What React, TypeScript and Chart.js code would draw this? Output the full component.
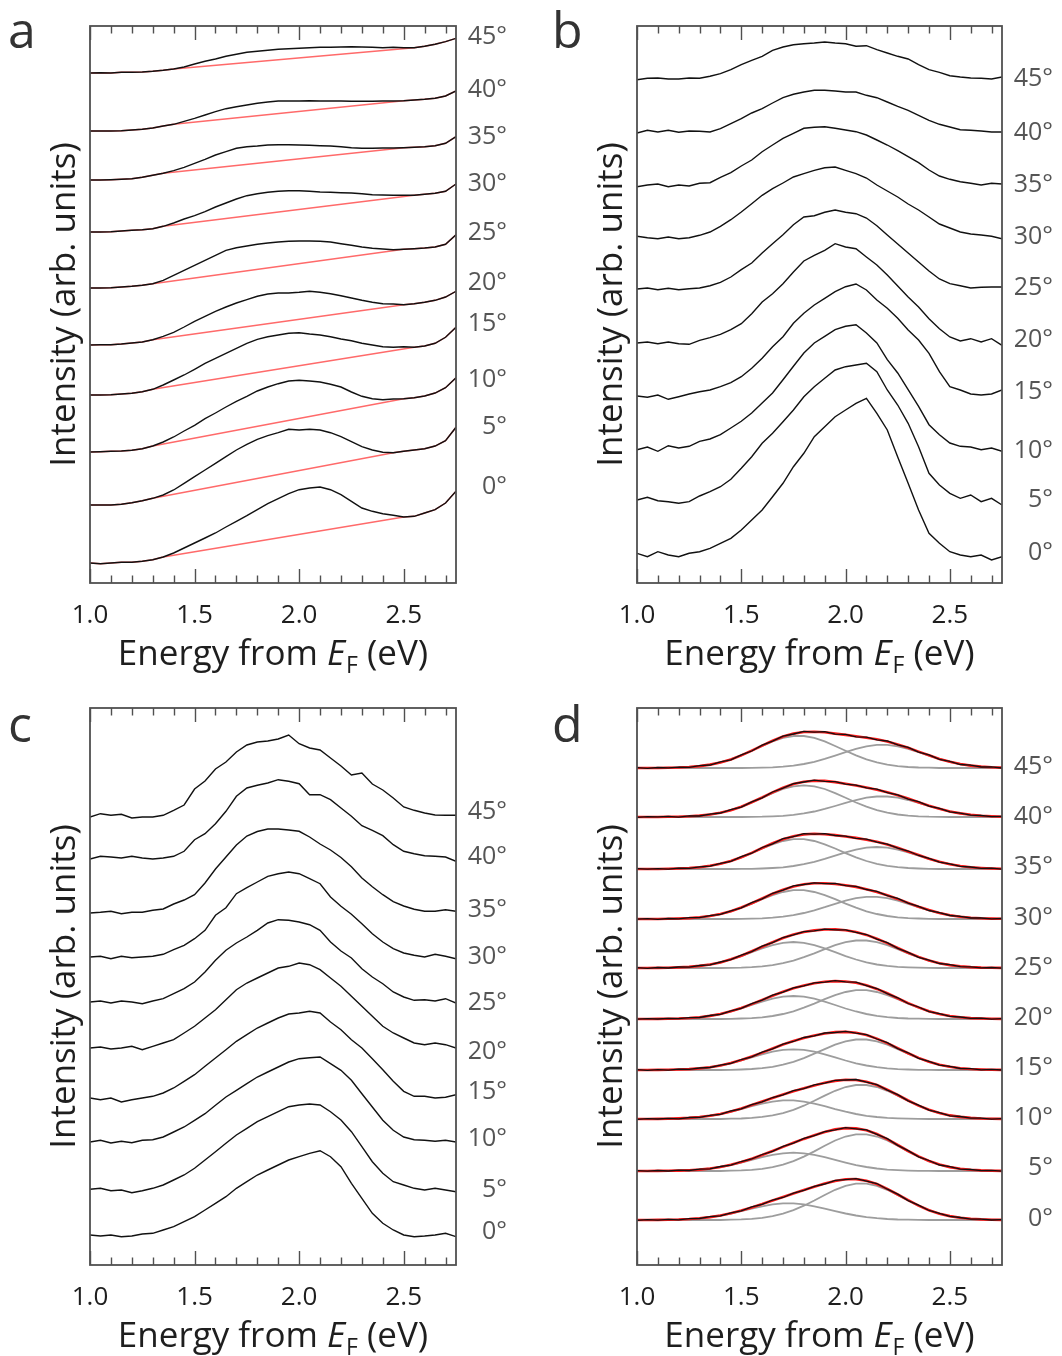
import React, { useEffect, useRef } from "react";
import { Chart, registerables } from "chart.js";
Chart.register(...registerables);

// ---------- shared axis data ----------
const energy = [1.0, 1.05, 1.1, 1.15, 1.2, 1.25, 1.3, 1.35, 1.4, 1.45, 1.5, 1.55, 1.6, 1.65, 1.7, 1.75, 1.8, 1.85, 1.9, 1.95, 2.0, 2.05, 2.1, 2.15, 2.2, 2.25, 2.3, 2.35, 2.4, 2.45, 2.5, 2.55, 2.6, 2.65, 2.7, 2.75];
const angleLabels = ["0°", "5°", "10°", "15°", "20°", "25°", "30°", "35°", "40°", "45°"];
const xTickValues = [1.0, 1.5, 2.0, 2.5];
const xTickLabels = ["1.0", "1.5", "2.0", "2.5"];
const xMinorTicks = [1.1, 1.2, 1.3, 1.4, 1.6, 1.7, 1.8, 1.9, 2.1, 2.2, 2.3, 2.4, 2.6, 2.7];

// ---------- panel a: raw spectra with linear backgrounds ----------
const aOffsets = [20, 78, 131, 188, 238, 295, 351, 403, 452, 510];
const aLabelPos = [96, 156, 203, 259, 300, 350, 399, 446, 493, 546];
const a0 = [0, -0.7, 0, 0.7, 0.7, 1.7, 3.3, 6, 10, 15, 20, 25, 30, 36, 41.7, 47.3, 53.3, 59.3, 64.3, 69.3, 73.3, 75, 76, 73.3, 68.3, 61.7, 55, 51.7, 49.3, 47.7, 46, 46.7, 50, 53.3, 60, 71.7];
const a5 = [0, 0, 0, 0.7, 2.3, 4.3, 6.7, 10, 15, 21.7, 28.3, 35, 41.7, 48.3, 55, 60.7, 65.7, 69.3, 72.3, 75.7, 75, 75.7, 75, 72.3, 68.3, 63.3, 58.3, 55, 52.7, 52.3, 53.7, 55, 56.3, 59, 64.3, 77.7];
const a10 = [0, 0.3, 0.7, 1, 1.7, 3.3, 6, 10, 15, 21, 26.7, 33.3, 39, 45, 50.7, 55.7, 61, 65, 68.3, 71, 71.7, 71, 70, 67.7, 65, 60, 55.7, 53.3, 52.3, 53, 53.3, 54.3, 56, 59, 64.3, 74.3];
const a15 = [0, 0, 0.3, 1, 1.7, 3.3, 5.7, 10, 15, 20, 25.7, 31.7, 36.7, 41.7, 46.7, 51.7, 55.7, 58.3, 60, 61.7, 62.3, 61, 60, 58.3, 56, 54.3, 51.7, 50, 48.3, 47.7, 48.3, 47.7, 49, 51.7, 57.7, 67.7];
const a20 = [0, 0.3, 0.3, 1, 2, 3, 5.3, 8.7, 12.7, 18, 23.7, 28.7, 33.7, 38, 42, 45.3, 48.7, 51, 52, 52, 52.7, 53.7, 52.7, 51.3, 49.3, 47, 44.7, 42.7, 41.3, 41, 40.3, 41.3, 42.7, 44.7, 48, 53.7];
const a25 = [0, 0, 0.3, 1, 1.7, 2.7, 4.3, 7.7, 12.7, 17.7, 22.7, 27.7, 32.7, 37.7, 40.3, 42, 43.7, 45, 46, 46.7, 47, 47, 46.7, 46, 44.3, 42.7, 41, 39.7, 39, 38.3, 38.7, 39.3, 40, 41, 43.7, 53.3];
const a30 = [0, 0, 0.3, 1, 1.7, 2.3, 3.3, 5.7, 9, 13, 16.3, 20.3, 25, 29, 33, 36.3, 38.3, 39.7, 40.7, 41.3, 41.3, 40.7, 40, 39.7, 39.3, 39, 38.3, 37.3, 37, 36.7, 36.7, 36.7, 37.7, 38.7, 40.7, 48];
const a35 = [0, 0, 0.3, 0.7, 1.3, 2.7, 4.7, 6.7, 9.3, 12.7, 16.7, 20.7, 25, 28.3, 31.7, 33.3, 34, 35, 35.3, 35.3, 35, 34.7, 34.3, 34, 33.3, 32.3, 31.7, 31.7, 32, 32, 32.3, 32.7, 33.3, 34.3, 36.7, 43.3];
const a40 = [0, 0, 0, 0.3, 1, 1.7, 3, 5, 6.7, 9.7, 12.7, 16, 19.3, 22.3, 24.3, 26, 27.7, 29, 30, 30, 30, 30.3, 30, 30, 30, 29.7, 29.7, 29.7, 30, 30, 30.3, 31, 31.7, 32.7, 35, 40];
const a45 = [0, 0.3, 0, 0.7, 0.7, 1, 1.7, 2.7, 4, 6, 9, 11.7, 14, 16.7, 18.7, 20.7, 21.7, 22.7, 23.7, 24.3, 24.7, 25.3, 25.7, 25.7, 26, 26.3, 26, 25.7, 25.3, 25.7, 25.3, 25.3, 26.7, 28.7, 31.3, 34.7];
const aSpectra = [a0, a5, a10, a15, a20, a25, a30, a35, a40, a45];
// linear background (red): start/end energy and intensity
const bgStartE = [1.35, 1.3, 1.3, 1.3, 1.3, 1.3, 1.35, 1.35, 1.4, 1.4];
const bgStartI = [6, 6.7, 6, 5.7, 5.3, 4.3, 5.7, 6.7, 6.7, 4];
const bgEndE = [2.5, 2.45, 2.5, 2.55, 2.5, 2.5, 2.55, 2.5, 2.5, 2.55];
const bgEndI = [46, 52.3, 53.3, 47.7, 40.3, 38.7, 36.7, 32.3, 30.3, 25.3];

// ---------- panel b ----------
const bOffsets = [28, 83, 134, 187, 240, 294, 346, 398, 451, 504];
const bLabelPos = [30, 83, 132, 191, 243, 295, 346, 398, 450, 504];
const b0 = [1.7, -1.7, 3.3, 0, -1.7, 1.7, 3.3, 6.7, 11.7, 16.7, 25, 35, 45, 58.3, 71.7, 88.3, 101.7, 118.3, 128.3, 138.3, 145, 151.7, 156.7, 141.7, 125, 98, 71.7, 45, 21.7, 11.7, 3.3, 0, -1.7, 0, -5, -1.7];
const b5 = [0, 2.7, -0.7, -1.7, -3.3, -1.7, 4, 8.3, 13.3, 20.7, 31.7, 43.3, 56.7, 66.7, 78.3, 90, 103.3, 113.3, 121.7, 130, 133.3, 135, 136.7, 128.3, 110, 95, 76.7, 53.3, 26.7, 15, 6.7, 1.7, 5, -1.7, 1.7, -5];
const b10 = [-0.7, 2, -2.3, 3.3, 1, 2.7, 7.7, 10, 14.3, 21, 27.7, 36, 46, 56, 69.3, 82.7, 96, 106, 112.7, 119.3, 122.7, 124.3, 116, 106, 89.3, 76, 59.3, 42.7, 24.3, 14.3, 6, 2.7, 2, -0.7, 1, -2.3];
const b15 = [0, -1.3, 1, -3.3, -0.7, 2, 4.3, 6, 9.3, 13.3, 19.3, 27.7, 37.7, 49.3, 59.3, 72.7, 82.7, 91, 97.7, 104.3, 109.3, 112, 106, 96, 87.7, 77.7, 66, 56, 42.7, 24.3, 9.3, 6, 2, 1, 2, 6];
const b20 = [0, 1, -0.7, 1, -0.7, -1.3, 2.7, 5.3, 8.7, 13.3, 19.3, 29.3, 41, 49.3, 59.3, 71, 82, 87.7, 92.7, 99.3, 96, 94.3, 86, 78, 68, 57, 46, 36, 24.3, 14.3, 6, 2, 4.3, 1, 4.3, -2.3];
const b25 = [0, 1, -0.7, 0.7, -0.7, 0.3, 1, 3.3, 6.7, 12, 19.3, 26, 36, 45.3, 54.3, 64.3, 72, 73.3, 76.7, 79, 76.7, 75.3, 71, 63.3, 54, 45, 36, 27, 18, 10, 5.3, 3.3, 1, 1.7, 2, 2];
const b30 = [0.7, -0.7, -1.7, 0, -1.7, -0.7, 1.7, 5, 10.7, 17.3, 25, 33.3, 41.7, 48.3, 54, 60, 63.3, 66.7, 69.3, 70, 66.7, 63.3, 59, 52, 46, 40, 33, 27, 20, 13, 9, 5, 3, 2, 0.7, -1.7];
const b35 = [-1.7, 0, 1, -1.7, 0, -1, 1.7, 2.3, 7.7, 12.3, 19, 25, 33.3, 40, 46.7, 51.7, 56.7, 57.7, 58.3, 56.7, 55, 53.3, 50, 45, 40, 34.3, 28.3, 22.3, 15, 9, 5.7, 3.3, 1.7, 0, 1.7, 1];
const b40 = [-1, 1.7, 0, 1.7, -0.3, 1, 0.7, 0, 3.3, 8.3, 13.3, 19, 23.3, 29, 34.3, 37.7, 40, 41.7, 41.7, 41, 40, 40, 36.7, 34.3, 30, 25.7, 21.7, 16.7, 11.7, 7.7, 5, 2.3, 1.7, 1, 0, 0];
const b45 = [-0.7, 0.7, 1, 0, 0, 1, 0.7, 2.7, 5.3, 9.3, 14.3, 18.7, 22.7, 28.7, 32, 34.3, 35.3, 36, 37, 36, 35.3, 32.7, 33.3, 29.3, 26, 22.7, 20, 14.3, 9.3, 6.7, 3.3, 2, 1, 0.7, 0, 2];
const bSpectra = [b0, b5, b10, b15, b20, b25, b30, b35, b40, b45];

// ---------- panel c ----------
const cOffsets = [30, 75, 123, 167, 217, 263, 308, 352, 406, 448];
const cLabelPos = [33, 75, 126, 173, 213, 262, 308, 355, 408, 453];
const c0 = [0, -1, 0, -1.7, -1, 1, 1.7, 5, 8.3, 13.3, 18.3, 25, 31.7, 38.3, 46.7, 53.3, 60, 65, 70, 75, 78.3, 81.7, 84.3, 78.3, 68.3, 51.7, 36.7, 21.7, 11.7, 5, 0, -1.7, -1, 0, 1.7, -1.7];
const c5 = [0.7, 1.7, -0.7, 0, -2.7, -0.7, 1.7, 5, 10, 15, 21.7, 30, 38.3, 46.7, 55, 61.7, 68.3, 73.3, 78.3, 83.3, 85, 86, 85, 78.3, 70, 58.3, 43.3, 28.3, 16.7, 8.3, 5, 1.7, 0, 1.7, 0, -1.7];
const c10 = [0, 1.7, -1, 0.7, -0.7, 1.7, 2.3, 5, 10, 15, 21.7, 28.3, 36.7, 45, 51.7, 58.3, 65, 70, 75, 80, 83.3, 84.3, 85, 78.3, 71.7, 61.7, 48.3, 35, 21.7, 11.7, 5, 2.3, 1.7, 0.7, 1.7, 0];
const c15 = [0, -1.7, 0, -4, -1.7, 0, 1.7, 5, 10, 16.7, 23.3, 31.7, 40, 48.3, 56.7, 63.3, 70, 75, 80, 84, 85, 86.7, 85, 76, 68.3, 58.3, 50, 39.3, 28.3, 16.7, 6.7, 1.7, 1.7, 0, 0.7, 3.3];
const c20 = [0, 1, -1, 0, 1.7, -1.7, 1.7, 5, 8.3, 15, 21.7, 30, 38.3, 48.3, 58.3, 65, 70, 75, 80, 81.7, 85, 83.3, 78.3, 70, 61.7, 51.7, 41.7, 31.7, 21.7, 15, 10, 5, 3.3, 5, 3.3, 0];
const c25 = [0, 1, -1, 1, 0, -1.7, 1, 3.3, 8.3, 13.3, 20, 30, 41.7, 51.7, 59, 65, 71.7, 79, 82.3, 81.7, 80, 77.3, 71.7, 60, 51, 44, 33.3, 25, 18.3, 10, 5, 1.7, 2.3, 1, 3.3, -1];
const c30 = [0, 0.7, -1.7, 0.7, -0.7, 0, 0.7, 2.7, 7.3, 11.7, 18.3, 26.7, 41.7, 49.3, 63.3, 69.3, 75, 80.7, 83.3, 85, 83.3, 78.3, 73.3, 60, 50.7, 42.7, 33.3, 23.3, 15, 8.3, 4, 1.7, 0, 2.7, 0.7, -1.7];
const c35 = [0, 0.7, 1.7, -0.7, 0.7, 0.7, 2.7, 4, 9, 13, 18.3, 30, 44, 56, 68, 77, 81.5, 84, 84, 83, 81.7, 76, 69, 63, 55.5, 46.3, 35, 26.3, 18.3, 11.3, 7, 3.8, 1.7, 1.7, 3.3, 1.7];
const c40 = [0, 2.7, 2, 1, 2.7, 1, 0, 1, 2.7, 7.7, 19.3, 25.3, 35.3, 47.7, 62.7, 71, 73.7, 76, 79.3, 77.7, 75.3, 64.3, 64.3, 59.3, 51, 42.7, 33.3, 28.7, 23.3, 14.3, 7.7, 5.3, 3.3, 2.7, 2, -2.3];
const c45 = [0, 3.3, 1.7, 2.7, -1, 0, 0, 1.7, 6.7, 12, 28, 36, 48, 55, 65, 72, 75, 76, 78, 82, 73.3, 69, 67, 59, 51, 42, 44, 33, 27, 19, 10, 6.7, 4, 2, 1.7, 1.7];
const cSpectra = [c0, c5, c10, c15, c20, c25, c30, c35, c40, c45];

// ---------- panel d: data (black) and two fitted components (gray) ----------
const dOffsets = [45, 94, 146, 195, 246, 297, 346, 396, 448, 497];
const dLabelPos = [46, 97, 147, 197, 247, 297, 347, 398, 448, 498];
const dK0 = [-0.3, 0.4, -0.1, 0.7, 0.2, 1.4, 1.5, 3.3, 4.2, 7.2, 9.2, 13.1, 15.6, 20.0, 22.5, 26.9, 29.6, 33.7, 36.0, 39.6, 40.4, 41.4, 38.9, 36.5, 30.8, 25.9, 19.4, 14.8, 9.5, 6.7, 3.6, 2.5, 0.9, 0.8, 0.0, 0.4];
const dK5 = [0.3, -0.2, 0.5, 0.0, 0.8, 0.5, 1.9, 2.2, 4.5, 5.8, 9.5, 12.0, 16.5, 19.6, 24.6, 27.8, 32.6, 35.3, 39.4, 41.2, 43.3, 42.2, 41.1, 36.6, 32.3, 25.6, 20.4, 14.2, 10.5, 6.0, 4.3, 1.9, 1.5, 0.3, 0.7, -0.1];
const dK10 = [-0.3, 0.4, 0.0, 0.7, 0.2, 1.5, 1.7, 3.6, 4.6, 8.0, 10.1, 14.4, 17.1, 21.5, 24.1, 28.3, 30.3, 34.1, 35.8, 38.6, 39.0, 39.5, 36.8, 34.4, 28.9, 24.4, 18.1, 13.9, 8.8, 6.3, 3.2, 2.5, 0.8, 0.9, -0.1, 0.4];
const dK15 = [0.3, -0.3, 0.4, -0.1, 0.9, 0.6, 2.0, 2.5, 4.9, 6.6, 10.5, 13.2, 17.9, 21.1, 25.9, 28.5, 32.5, 34.2, 37.0, 37.5, 38.6, 36.8, 35.4, 31.0, 27.3, 21.4, 17.2, 11.7, 8.6, 4.9, 3.6, 1.5, 1.3, 0.2, 0.6, 0.0];
const dK20 = [-0.2, 0.4, 0.0, 0.6, 0.3, 1.4, 1.5, 3.5, 4.7, 8.1, 10.6, 15.4, 18.8, 23.8, 26.9, 31.2, 33.2, 36.1, 36.8, 38.4, 37.1, 36.8, 33.4, 30.5, 25.3, 21.2, 15.5, 12.0, 7.4, 5.4, 2.7, 2.0, 0.6, 0.8, -0.1, 0.4];
const dK25 = [0.3, -0.3, 0.5, 0.0, 1.0, 0.8, 2.5, 3.2, 6.0, 8.3, 12.8, 16.4, 21.8, 25.4, 30.5, 33.1, 36.4, 37.2, 38.9, 38.2, 38.1, 35.6, 33.5, 28.8, 25.3, 19.6, 15.7, 10.7, 7.9, 4.5, 3.3, 1.4, 1.2, 0.1, 0.5, -0.2];
const dK30 = [-0.2, 0.3, -0.3, 0.5, 0.2, 1.3, 1.4, 3.4, 4.7, 8.1, 11.2, 16.3, 20.1, 25.7, 28.9, 33.1, 34.5, 36.2, 35.4, 35.6, 33.4, 32.6, 29.5, 27.6, 23.3, 20.6, 15.8, 12.7, 8.5, 6.4, 3.5, 2.6, 1.0, 1.0, 0.1, 0.5];
const dK35 = [0.4, -0.2, 0.3, -0.1, 0.9, 0.7, 2.2, 2.8, 5.7, 7.6, 12.3, 15.8, 21.5, 25.2, 30.3, 32.4, 35.3, 34.9, 35.3, 33.5, 32.9, 30.7, 29.8, 26.8, 24.9, 20.8, 18.0, 13.5, 10.6, 6.8, 5.2, 2.7, 2.0, 0.7, 0.8, -0.1];
const dK40 = [-0.3, 0.4, 0.2, 0.6, -0.1, 1.2, 1.0, 2.9, 4.0, 7.3, 9.9, 15.2, 19.1, 25.0, 28.8, 33.4, 35.0, 36.8, 35.7, 35.3, 32.8, 31.9, 29.1, 27.8, 24.3, 22.2, 17.9, 15.3, 10.9, 8.7, 5.1, 3.9, 1.8, 1.5, 0.3, 0.6];
const dK45 = [0.3, -0.4, 0.5, 0.1, 0.9, 0.6, 2.3, 3.0, 6.1, 8.2, 13.1, 17.0, 22.9, 26.8, 31.9, 34.0, 36.6, 35.8, 36.3, 33.9, 33.6, 31.2, 30.9, 28.1, 27.0, 23.1, 20.7, 15.8, 13.1, 8.6, 6.6, 3.5, 2.8, 1.0, 1.1, 0.0];
const dData = [dK0, dK5, dK10, dK15, dK20, dK25, dK30, dK35, dK40, dK45];

const dL0 = [0, 0, 0.1, 0.3, 0.5, 1.0, 1.8, 2.9, 4.5, 6.5, 8.9, 11.4, 13.7, 15.6, 16.6, 16.6, 15.6, 13.7, 11.4, 8.9, 6.5, 4.5, 2.9, 1.8, 1.0, 0.5, 0.3, 0.1, 0, 0, 0, 0, 0, 0, 0, 0];
const dL5 = [0, 0, 0.1, 0.2, 0.4, 0.8, 1.4, 2.5, 4.0, 5.9, 8.4, 11.1, 13.8, 16.1, 17.7, 18.3, 17.7, 16.1, 13.8, 11.1, 8.4, 5.9, 4.0, 2.5, 1.4, 0.8, 0.4, 0.2, 0.1, 0, 0, 0, 0, 0, 0, 0];
const dL10 = [0, 0, 0.1, 0.3, 0.6, 1.1, 2.0, 3.2, 5.0, 7.3, 9.9, 12.8, 15.4, 17.4, 18.6, 18.6, 17.4, 15.4, 12.8, 9.9, 7.3, 5.0, 3.2, 2.0, 1.1, 0.6, 0.3, 0.1, 0, 0, 0, 0, 0, 0, 0, 0];
const dL15 = [0, 0, 0.1, 0.2, 0.5, 0.9, 1.6, 2.8, 4.5, 6.7, 9.5, 12.6, 15.6, 18.3, 20.1, 20.7, 20.1, 18.3, 15.6, 12.6, 9.5, 6.7, 4.5, 2.8, 1.6, 0.9, 0.5, 0.2, 0.1, 0, 0, 0, 0, 0, 0, 0];
const dL20 = [0, 0, 0.1, 0.3, 0.5, 1.0, 1.8, 3.1, 5.0, 7.5, 10.5, 14.0, 17.4, 20.3, 22.3, 23.0, 22.3, 20.3, 17.4, 14.0, 10.5, 7.5, 5.0, 3.1, 1.8, 1.0, 0.5, 0.3, 0.1, 0, 0, 0, 0, 0, 0, 0];
const dL25 = [0, 0, 0.1, 0.3, 0.6, 1.1, 2.1, 3.5, 5.6, 8.5, 11.9, 15.8, 19.6, 22.9, 25.2, 26.0, 25.2, 22.9, 19.6, 15.8, 11.9, 8.5, 5.6, 3.5, 2.1, 1.1, 0.6, 0.3, 0.1, 0, 0, 0, 0, 0, 0, 0];
const dL30 = [0, 0, 0, 0.2, 0.5, 0.9, 1.7, 3.0, 5.0, 7.7, 11.3, 15.4, 19.8, 23.9, 27.0, 28.8, 28.8, 27.0, 23.9, 19.8, 15.4, 11.3, 7.7, 5.0, 3.0, 1.7, 0.9, 0.5, 0.2, 0, 0, 0, 0, 0, 0, 0];
const dL35 = [0, 0, 0, 0.2, 0.5, 1.0, 1.8, 3.2, 5.2, 8.0, 11.7, 15.9, 20.5, 24.7, 28.0, 29.8, 29.8, 28.0, 24.7, 20.5, 15.9, 11.7, 8.0, 5.2, 3.2, 1.8, 1.0, 0.5, 0.2, 0, 0, 0, 0, 0, 0, 0];
const dL40 = [0, 0, 0, 0.2, 0.3, 0.7, 1.4, 2.5, 4.3, 6.8, 10.3, 14.5, 19.2, 23.9, 28.0, 30.7, 31.7, 30.7, 28.0, 23.9, 19.2, 14.5, 10.3, 6.8, 4.3, 2.5, 1.4, 0.7, 0.3, 0.2, 0, 0, 0, 0, 0, 0];
const dL45 = [0, 0, 0, 0.3, 0.5, 1.0, 1.9, 3.4, 5.6, 8.6, 12.6, 17.2, 22.0, 26.6, 30.1, 32.0, 32.0, 30.1, 26.6, 22.0, 17.2, 12.6, 8.6, 5.6, 3.4, 1.9, 1.0, 0.5, 0.3, 0, 0, 0, 0, 0, 0, 0];
const dLow = [dL0, dL5, dL10, dL15, dL20, dL25, dL30, dL35, dL40, dL45];

const dR0 = [0, 0, 0, 0, 0, 0, 0, 0, 0, 0.3, 0.6, 1.2, 2.2, 3.9, 6.3, 9.8, 14.3, 19.5, 25.0, 30.2, 34.2, 36.4, 36.4, 34.2, 30.2, 25.0, 19.5, 14.3, 9.8, 6.3, 3.9, 2.2, 1.2, 0.6, 0.3, 0.1];
const dR5 = [0, 0, 0, 0, 0, 0, 0, 0, 0, 0.3, 0.6, 1.2, 2.2, 3.9, 6.4, 9.9, 14.4, 19.6, 25.2, 30.5, 34.5, 36.7, 36.7, 34.5, 30.5, 25.2, 19.6, 14.4, 9.9, 6.4, 3.9, 2.2, 1.2, 0.6, 0.3, 0.1];
const dR10 = [0, 0, 0, 0, 0, 0, 0, 0, 0, 0.3, 0.5, 1.1, 2.1, 3.6, 5.9, 9.2, 13.3, 18.2, 23.4, 28.2, 32.0, 34.0, 34.0, 32.0, 28.2, 23.4, 18.2, 13.3, 9.2, 5.9, 3.6, 2.1, 1.1, 0.5, 0.3, 0.1];
const dR15 = [0, 0, 0, 0, 0, 0, 0, 0, 0, 0.2, 0.5, 1.0, 1.8, 3.2, 5.3, 8.2, 11.9, 16.3, 20.9, 25.3, 28.6, 30.5, 30.5, 28.6, 25.3, 20.9, 16.3, 11.9, 8.2, 5.3, 3.2, 1.8, 1.0, 0.5, 0.2, 0.1];
const dR20 = [0, 0, 0, 0, 0, 0, 0, 0, 0, 0.2, 0.5, 0.9, 1.7, 3.0, 5.0, 7.7, 11.3, 15.4, 19.8, 23.9, 27.0, 28.8, 28.8, 27.0, 23.9, 19.8, 15.4, 11.3, 7.7, 5.0, 3.0, 1.7, 0.9, 0.5, 0.2, 0.1];
const dR25 = [0, 0, 0, 0, 0, 0, 0, 0, 0, 0.2, 0.4, 0.9, 1.7, 2.9, 4.8, 7.4, 10.8, 14.7, 18.9, 22.8, 25.8, 27.5, 27.5, 25.8, 22.8, 18.9, 14.7, 10.8, 7.4, 4.8, 2.9, 1.7, 0.9, 0.4, 0.2, 0.1];
const dR30 = [0, 0, 0, 0, 0, 0, 0, 0, 0, 0, 0.2, 0.4, 0.7, 1.3, 2.3, 3.8, 6.0, 8.7, 11.8, 15.2, 18.4, 20.8, 22.1, 22.1, 20.8, 18.4, 15.2, 11.8, 8.7, 6.0, 3.8, 2.3, 1.3, 0.7, 0.4, 0.2];
const dR35 = [0, 0, 0, 0, 0, 0, 0, 0, 0, 0, 0.1, 0.2, 0.5, 1.0, 1.7, 3.0, 4.8, 7.2, 10.1, 13.4, 16.6, 19.4, 21.3, 22.0, 21.3, 19.4, 16.6, 13.4, 10.1, 7.2, 4.8, 3.0, 1.7, 1.0, 0.5, 0.2];
const dR40 = [0, 0, 0, 0, 0, 0, 0, 0, 0, 0, 0, 0.2, 0.3, 0.7, 1.2, 2.2, 3.6, 5.5, 8.1, 11.0, 14.1, 17.0, 19.3, 20.5, 20.5, 19.3, 17.0, 14.1, 11.0, 8.1, 5.5, 3.6, 2.2, 1.2, 0.7, 0.3];
const dR45 = [0, 0, 0, 0, 0, 0, 0, 0, 0, 0, 0, 0.2, 0.4, 0.7, 1.4, 2.4, 4.0, 6.2, 9.1, 12.4, 15.9, 19.2, 21.7, 23.1, 23.1, 21.7, 19.2, 15.9, 12.4, 9.1, 6.2, 4.0, 2.4, 1.4, 0.7, 0.4];
const dHigh = [dR0, dR5, dR10, dR15, dR20, dR25, dR30, dR35, dR40, dR45];

// ---------- dataset builders ----------
const BLACK = "#111111";
const lineBase = { pointRadius: 0, fill: false, tension: 0, spanGaps: true };

function curve(offset: number, vals: number[], color: string, width: number, order: number) {
  return {
    ...lineBase,
    data: energy.map((e, j) => ({ x: e, y: offset + vals[j] })),
    borderColor: color,
    borderWidth: width,
    order,
  };
}

function panelADatasets() {
  const ds: any[] = [];
  aSpectra.forEach((vals, i) => {
    ds.push(curve(aOffsets[i], vals, BLACK, 1.4, 0));
    const pts: { x: number; y: number }[] = [];
    energy.forEach((e, j) => { if (e < bgStartE[i] - 1e-9) pts.push({ x: e, y: aOffsets[i] + vals[j] }); });
    pts.push({ x: bgStartE[i], y: aOffsets[i] + bgStartI[i] });
    pts.push({ x: bgEndE[i], y: aOffsets[i] + bgEndI[i] });
    energy.forEach((e, j) => { if (e > bgEndE[i] + 1e-9) pts.push({ x: e, y: aOffsets[i] + vals[j] }); });
    ds.push({ ...lineBase, data: pts, borderColor: "#ff6a6a", borderWidth: 1.4, order: 1 });
  });
  return ds;
}

function simpleDatasets(offsets: number[], spectra: number[][]) {
  return spectra.map((vals, i) => curve(offsets[i], vals, BLACK, 1.4, 0));
}

function panelDDatasets() {
  const ds: any[] = [];
  dData.forEach((vals, i) => {
    ds.push(curve(dOffsets[i], vals, BLACK, 1.3, 0));
    const fit = dLow[i].map((v, j) => v + dHigh[i][j]);
    ds.push(curve(dOffsets[i], fit, "#ff1a1a", 2.6, 1));
    ds.push(curve(dOffsets[i], dLow[i], "#9d9d9d", 1.8, 2));
    ds.push(curve(dOffsets[i], dHigh[i], "#9d9d9d", 1.8, 2));
  });
  return ds;
}

// ---------- decoration plugin (frame, ticks, labels, titles) ----------
const FONT = '"Open Sans", "Noto Sans", sans-serif';

function makeDecor(spec: any) {
  return {
    id: "decor",
    afterDraw(chart: any) {
      const { ctx, chartArea: a, scales } = chart;
      const xs = scales.x;
      const ys = scales.y;
      ctx.save();
      // frame
      ctx.strokeStyle = "#505050";
      ctx.lineWidth = 1.8;
      ctx.strokeRect(a.left, a.top, a.right - a.left, a.bottom - a.top);
      // ticks (inward, top and bottom)
      ctx.lineWidth = 1.4;
      const tick = (v: number, len: number) => {
        const px = Math.round(xs.getPixelForValue(v)) + 0.5;
        ctx.beginPath();
        ctx.moveTo(px, a.bottom);
        ctx.lineTo(px, a.bottom - len);
        ctx.moveTo(px, a.top);
        ctx.lineTo(px, a.top + len);
        ctx.stroke();
      };
      xTickValues.forEach((v) => tick(v, 14));
      xMinorTicks.forEach((v) => tick(v, 7.5));
      // tick labels
      ctx.fillStyle = "#1e1e1e";
      ctx.font = `26px ${FONT}`;
      ctx.textAlign = "center";
      ctx.textBaseline = "alphabetic";
      xTickValues.forEach((v, i) => ctx.fillText(xTickLabels[i], xs.getPixelForValue(v), a.bottom + 40));
      // x title: Energy from E_F (eV)
      const fs = 35;
      const p1 = "Energy from ";
      const p4 = " (eV)";
      ctx.font = `${fs}px ${FONT}`;
      const w1 = ctx.measureText(p1).width;
      const w4 = ctx.measureText(p4).width;
      ctx.font = `italic ${fs}px ${FONT}`;
      const w2 = ctx.measureText("E").width;
      ctx.font = `${Math.round(fs * 0.66)}px ${FONT}`;
      const w3 = ctx.measureText("F").width;
      const total = w1 + w2 + 1 + w3 + w4;
      let x = (a.left + a.right) / 2 - total / 2;
      const yb = a.bottom + 82;
      ctx.textAlign = "left";
      ctx.font = `${fs}px ${FONT}`;
      ctx.fillText(p1, x, yb);
      x += w1;
      ctx.font = `italic ${fs}px ${FONT}`;
      ctx.fillText("E", x, yb);
      x += w2 + 1;
      ctx.font = `${Math.round(fs * 0.66)}px ${FONT}`;
      ctx.fillText("F", x, yb + 8);
      x += w3;
      ctx.font = `${fs}px ${FONT}`;
      ctx.fillText(p4, x, yb);
      // y title
      ctx.save();
      ctx.translate(a.left - 15, (a.top + a.bottom) / 2);
      ctx.rotate(-Math.PI / 2);
      ctx.textAlign = "center";
      ctx.textBaseline = "alphabetic";
      ctx.font = `${fs}px ${FONT}`;
      ctx.fillText("Intensity (arb. units)", 0, 0);
      ctx.restore();
      // panel letter
      ctx.fillStyle = "#333333";
      ctx.font = `50px ${FONT}`;
      ctx.textAlign = "left";
      ctx.textBaseline = "alphabetic";
      ctx.fillText(spec.letter, spec.letterX, spec.letterY);
      // angle labels
      ctx.fillStyle = "#555555";
      ctx.font = `25px ${FONT}`;
      ctx.textAlign = "right";
      ctx.textBaseline = "middle";
      angleLabels.forEach((t, i) => ctx.fillText(t, a.right + 51, ys.getPixelForValue(spec.labelPos[i])));
      ctx.restore();
    },
  };
}

function Panel({ spec }: { spec: any }) {
  const ref = useRef<HTMLCanvasElement>(null);
  useEffect(() => {
    if (!ref.current) return;
    const chart = new Chart(ref.current, {
      type: "line",
      data: { datasets: spec.datasets },
      options: {
        animation: false,
        responsive: false,
        maintainAspectRatio: false,
        devicePixelRatio: 1,
        events: [],
        layout: { padding: spec.padding },
        scales: {
          x: { type: "linear", min: 1.0, max: 2.75, display: false },
          y: { type: "linear", min: 0, max: 557, display: false },
        },
        plugins: { legend: { display: false }, tooltip: { enabled: false } },
      },
      plugins: [makeDecor(spec)],
    } as any);
    return () => chart.destroy();
  }, []);
  return (
    <canvas
      ref={ref}
      width={spec.width}
      height={spec.height}
      style={{ position: "absolute", left: spec.left, top: spec.top, width: spec.width, height: spec.height }}
    />
  );
}

const panels = [
  { letter: "a", left: 0, top: 0, width: 531, height: 683, padding: { left: 90, top: 26, right: 75, bottom: 100 }, letterX: 8, letterY: 48, labelPos: aLabelPos, datasets: panelADatasets() },
  { letter: "b", left: 531, top: 0, width: 531, height: 683, padding: { left: 106, top: 26, right: 60, bottom: 100 }, letterX: 21, letterY: 48, labelPos: bLabelPos, datasets: simpleDatasets(bOffsets, bSpectra) },
  { letter: "c", left: 0, top: 683, width: 531, height: 673, padding: { left: 90, top: 25, right: 75, bottom: 91 }, letterX: 8, letterY: 59, labelPos: cLabelPos, datasets: simpleDatasets(cOffsets, cSpectra) },
  { letter: "d", left: 531, top: 683, width: 531, height: 673, padding: { left: 106, top: 25, right: 60, bottom: 91 }, letterX: 21, letterY: 59, labelPos: dLabelPos, datasets: panelDDatasets() },
];

export default function App() {
  return (
    <div style={{ position: "absolute", left: 0, top: 0, width: 1062, height: 1356, background: "#ffffff", overflow: "hidden" }}>
      {panels.map((p) => (
        <Panel key={p.letter} spec={p} />
      ))}
    </div>
  );
}
